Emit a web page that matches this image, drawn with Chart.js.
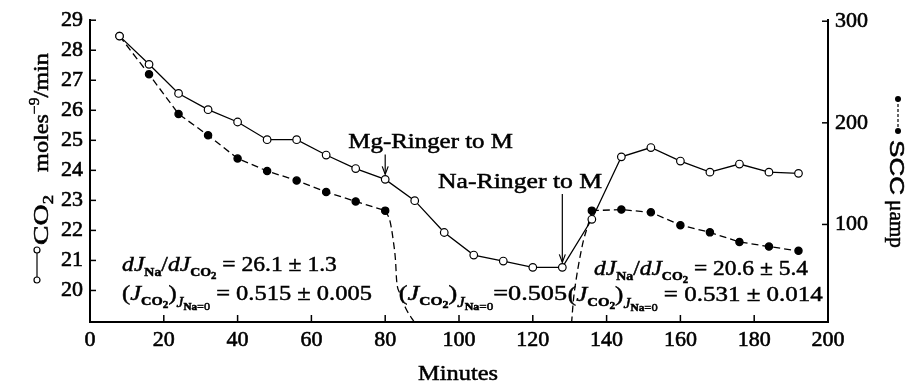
<!DOCTYPE html>
<html>
<head>
<meta charset="utf-8">
<script src="https://cdn.jsdelivr.net/npm/chart.js@4.4.1/dist/chart.umd.min.js"></script>
<style>
  html, body { margin: 0; padding: 0; background: #fff; }
  canvas { display: block; }
</style>
</head>
<body>
<canvas id="chart" width="908" height="384"></canvas>
<script>
// values
var minutes = [8, 16, 24, 32, 40, 48, 56, 64, 72, 80, 88, 96, 104, 112, 120, 128, 136, 144, 152, 160, 168, 176, 184, 192];
var co2Values = [28.47, 27.53, 26.56, 26.02, 25.61, 25.02, 25.02, 24.51, 24.06, 23.70, 22.99, 21.93, 21.18, 20.98, 20.77, 20.77, 22.37, 24.45, 24.76, 24.31, 23.94, 24.21, 23.94, 23.90];
var sccValues = [285.4, 247.7, 208.7, 187.7, 164.9, 152.6, 143.2, 132, 122.7, 113.6, null, null, null, null, null, null, 113.6, 114.6, 112, 99.3, 92.2, 82.8, 78.2, 74];
// hand-drawn dashed curves where SCC leaves / returns to the scale
var sccDropMinutes = [80, 81.3, 82.2, 82.8, 83.1, 84.0, 85.4, 87.2, 88.1];
var sccDropValues = [113.6, 103.2, 83.8, 64.3, 44.8, 32.1, 18.8, 7.5, 3];
var sccRiseMinutes = [130.5, 131.0, 131.7, 132.6, 133.7, 135.0, 136];
var sccRiseValues = [2.6, 25.3, 44.8, 64.3, 83.8, 100, 113.6];

var xTicks = [0, 20, 40, 60, 80, 100, 120, 140, 160, 180, 200];
var co2Ticks = [20, 21, 22, 23, 24, 25, 26, 27, 28, 29];
var sccTicks = [100, 200, 300];

var SERIF = "'Liberation Serif', 'Times New Roman', serif";
var SANS = "'Liberation Sans', Arial, sans-serif";

function pts(xs, ys) {
  return xs.map(function (x, i) { return { x: x, y: ys[i] }; });
}

function fontFor(r) {
  var st = r[1];
  var fam = st === 's' ? SANS : SERIF;
  var pre = st === 'i' ? 'italic ' : (st === 'b' ? 'bold ' : '');
  return pre + r[2] + 'px ' + fam;
}

// draw a row of text runs squeezed/stretched between x0 and x1
function drawRuns(ctx, runs, x0, x1, base) {
  var w = 0;
  runs.forEach(function (r) { ctx.font = fontFor(r); w += ctx.measureText(r[0]).width; });
  var sx = (x1 - x0) / w;
  ctx.save();
  ctx.translate(x0, base);
  ctx.scale(sx, 1);
  ctx.textAlign = 'left';
  ctx.textBaseline = 'alphabetic';
  ctx.lineWidth = 0.5;
  ctx.strokeStyle = '#000';
  var cx = 0;
  runs.forEach(function (r) {
    ctx.font = fontFor(r);
    ctx.fillText(r[0], cx, r[3]);
    ctx.strokeText(r[0], cx, r[3]);
    cx += ctx.measureText(r[0]).width;
  });
  ctx.restore();
}

function line(ctx, a, b, c, d) {
  ctx.beginPath(); ctx.moveTo(a, b); ctx.lineTo(c, d); ctx.stroke();
}

var slope = [['d','i',22,0],['J','i',22,0],['Na','b',13,5],['/','r',22,0],['d','i',22,0],['J','i',22,0],['CO','b',13,5],['2','b',10,8]];
var jco2 = [['(','r',22,0],['J','i',22,0],['CO','b',13,5],['2','b',10,8],[')','r',22,0],['J','i',14,7],['Na','b',10,10],['=0','r',11,10]];

var notes = [
  { x0: 70, x1: 114.6, y: 24.73, runs: [['Mg-Ringer to M','r',21,0]] },
  { x0: 94.3, x1: 138.8, y: 23.41, runs: [['Na-Ringer to M','r',21,0]] },
  { x0: 8.7, x1: 66.9, y: 20.66, runs: slope.concat([[' = 26.1 \u00b1 1.3','r',22,0]]) },
  { x0: 8.7, x1: 76.4, y: 19.68, runs: jco2.concat([[' = 0.515 \u00b1 0.005','r',22,0]]) },
  { x0: 83.7, x1: 129.3, y: 19.68, runs: jco2.concat([['=0.505','r',22,0]]) },
  { x0: 136.6, x1: 194.6, y: 20.5, runs: slope.concat([[' = 20.6 \u00b1 5.4','r',22,0]]) },
  { x0: 129.5, x1: 198.6, y: 19.64, runs: jco2.concat([[' = 0.531 \u00b1 0.014','r',22,0]]) }
];

var decor = {
  id: 'decor',
  afterDraw: function (chart) {
    var ctx = chart.ctx, a = chart.chartArea;
    var sx = chart.scales.x, sy = chart.scales.y, sy1 = chart.scales.y1;
    ctx.save();
    ctx.strokeStyle = '#000';
    ctx.fillStyle = '#000';
    ctx.lineWidth = 1.5;
    // inward tick marks
    xTicks.forEach(function (v) {
      if (v === 0 || v === 200) return;
      var p = sx.getPixelForValue(v);
      line(ctx, p, a.bottom, p, a.bottom - 7);
    });
    co2Ticks.forEach(function (v) {
      var p = sy.getPixelForValue(v);
      line(ctx, a.left, p, a.left + 6, p);
    });
    sccTicks.forEach(function (v) {
      var p = sy1.getPixelForValue(v);
      line(ctx, a.right, p, a.right - 6, p);
    });

    // text notes
    ctx.fillStyle = '#000';
    notes.forEach(function (n) {
      drawRuns(ctx, n.runs, sx.getPixelForValue(n.x0), sx.getPixelForValue(n.x1), sy.getPixelForValue(n.y));
    });

    // arrows to the solution changes
    ctx.lineWidth = 1.2;
    [[80, 0], [128, 1]].forEach(function (d) {
      var i = minutes.indexOf(d[0]);
      var px = sx.getPixelForValue(d[0]);
      var tip = sy.getPixelForValue(co2Values[i]) - 5;
      var start = sy.getPixelForValue(notes[d[1]].y) + 6;
      line(ctx, px, start, px, tip);
      ctx.beginPath();
      ctx.moveTo(px - 3, tip - 8); ctx.lineTo(px, tip); ctx.lineTo(px + 3, tip - 8);
      ctx.stroke();
    });

    // x title
    drawRuns(ctx, [['Minutes','r',22,0]], 418, 498, 380);

    // left title (rotated)
    ctx.save();
    ctx.translate(48, 290);
    ctx.rotate(-Math.PI / 2);
    ctx.lineWidth = 1.2;
    line(ctx, 10, -11, 40, -11);
    [10, 40].forEach(function (u) {
      ctx.beginPath(); ctx.arc(u, -11, 3, 0, Math.PI * 2);
      ctx.fillStyle = '#fff'; ctx.fill(); ctx.stroke();
    });
    ctx.fillStyle = '#000';
    drawRuns(ctx, [['CO','r',22,0],['2','r',14,5]], 45, 95, 0);
    drawRuns(ctx, [['moles','r',22,0],['\u22129','r',14,-9],['/min','r',22,0]], 118, 237, 0);
    ctx.restore();

    // right title (rotated)
    ctx.save();
    ctx.translate(890, 99);
    ctx.rotate(Math.PI / 2);
    ctx.lineWidth = 1.2;
    ctx.setLineDash([3, 2]);
    line(ctx, 0, -8, 32, -8);
    ctx.setLineDash([]);
    [0, 32].forEach(function (u) {
      ctx.beginPath(); ctx.arc(u, -8, 3, 0, Math.PI * 2); ctx.fill();
    });
    drawRuns(ctx, [['SCC','s',20,0]], 41, 96, 0);
    drawRuns(ctx, [['\u03bcamp','r',22,0]], 101, 149, 0);
    ctx.restore();

    ctx.restore();
  }
};

var dashed = [7, 4];
var tickFont = { family: SERIF, size: 22 };

new Chart(document.getElementById('chart'), {
  type: 'line',
  data: {
    datasets: [
      {
        label: 'CO2',
        data: pts(minutes, co2Values),
        yAxisID: 'y',
        borderColor: '#000',
        borderWidth: 1.3,
        pointRadius: 3.8,
        pointBackgroundColor: '#fff',
        pointBorderColor: '#000',
        pointBorderWidth: 1.2,
        tension: 0
      },
      {
        label: 'SCC',
        data: pts(minutes, sccValues),
        yAxisID: 'y1',
        borderColor: '#000',
        borderWidth: 1.3,
        borderDash: dashed,
        pointRadius: 3.6,
        pointBackgroundColor: '#000',
        pointBorderColor: '#000',
        spanGaps: false,
        tension: 0
      },
      {
        label: 'SCC drop',
        data: pts(sccDropMinutes, sccDropValues),
        yAxisID: 'y1',
        borderColor: '#000',
        borderWidth: 1.3,
        borderDash: dashed,
        pointRadius: 0,
        cubicInterpolationMode: 'monotone'
      },
      {
        label: 'SCC rise',
        data: pts(sccRiseMinutes, sccRiseValues),
        yAxisID: 'y1',
        borderColor: '#000',
        borderWidth: 1.3,
        borderDash: dashed,
        pointRadius: 0,
        cubicInterpolationMode: 'monotone'
      }
    ]
  },
  options: {
    responsive: false,
    animation: false,
    devicePixelRatio: 1,
    layout: { padding: { top: 17, left: 0, right: 0, bottom: 0 } },
    plugins: { legend: { display: false }, tooltip: { enabled: false } },
    scales: {
      x: {
        type: 'linear',
        min: 0, max: 200,
        afterBuildTicks: function (s) { s.ticks = xTicks.map(function (v) { return { value: v }; }); },
        afterFit: function (s) { s.height = 62; },
        grid: { display: false, drawTicks: false },
        border: { display: true, width: 2, color: '#000' },
        ticks: { color: '#000', padding: 5, maxRotation: 0, font: tickFont, textStrokeColor: '#000', textStrokeWidth: 0.6 }
      },
      y: {
        position: 'left',
        min: 18.95, max: 29,
        afterBuildTicks: function (s) { s.ticks = co2Ticks.map(function (v) { return { value: v }; }); },
        afterFit: function (s) { s.width = 90; },
        grid: { display: false, drawTicks: false },
        border: { display: true, width: 2, color: '#000' },
        ticks: { color: '#000', padding: 7, font: tickFont, textStrokeColor: '#000', textStrokeWidth: 0.6 }
      },
      y1: {
        position: 'right',
        min: 4, max: 301,
        afterBuildTicks: function (s) { s.ticks = sccTicks.map(function (v) { return { value: v }; }); },
        afterFit: function (s) { s.width = 80; },
        grid: { display: false, drawTicks: false },
        border: { display: true, width: 2, color: '#000' },
        ticks: { color: '#000', padding: 7, font: tickFont, textStrokeColor: '#000', textStrokeWidth: 0.6 }
      }
    }
  },
  plugins: [decor]
});
</script>
</body>
</html>
